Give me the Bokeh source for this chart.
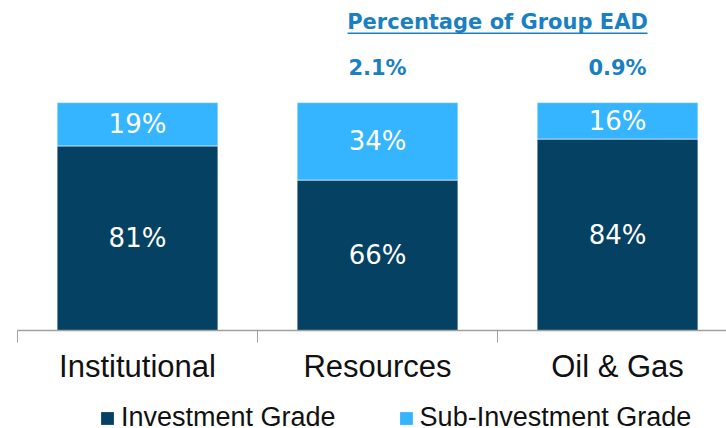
from bokeh.plotting import figure
from bokeh.layouts import column
from bokeh.models import ColumnDataSource, Range1d, FixedTicker, Legend, LegendItem, Label
from bokeh.core.properties import value
from bokeh.embed import file_html
from bokeh.resources import INLINE

categories = ["Institutional", "Resources", "Oil & Gas"]
investment_grade = [81, 66, 84]
sub_investment_grade = [19, 34, 16]
ead_share = ["", "2.1%", "0.9%"]
header_text = "Percentage of Group EAD"
series_names = ["Investment Grade", "Sub-Investment Grade"]

DARK = "#044163"
LIGHT = "#35B4FF"
BLUE_TXT = "#1A80C2"

xs = list(range(len(categories)))
src = ColumnDataSource(dict(
    x=xs,
    ig=investment_grade,
    sig=sub_investment_grade,
    ig_lbl=[f"{v}%" for v in investment_grade],
    sig_lbl=[f"{v}%" for v in sub_investment_grade],
    ig_mid=[v / 2 for v in investment_grade],
    sig_mid=[a + b / 2 for a, b in zip(investment_grade, sub_investment_grade)],
    ead=ead_share,
    ead_y=[115] * len(categories),
))

p = figure(width=726, height=390, output_backend="svg", toolbar_location=None,
           x_range=Range1d(-0.5, 2.454), y_range=Range1d(0, 141.3),
           y_axis_type=None, min_border_left=17, min_border_right=0,
           min_border_top=8, min_border_bottom=60)
p.outline_line_color = None
p.xgrid.visible = False
p.ygrid.visible = False

p.vbar_stack(["ig", "sig"], x="x", width=0.67, source=src,
             color=[DARK, LIGHT], line_color="white", line_width=0.6)

p.text(x="x", y="ig_mid", text="ig_lbl", source=src, text_color="white",
       text_font=value("DejaVu Sans"), text_font_size="26px",
       text_align="center", text_baseline="middle")
p.text(x="x", y="sig_mid", text="sig_lbl", source=src, text_color="white",
       text_font=value("DejaVu Sans"), text_font_size="26px",
       text_align="center", text_baseline="middle")
p.text(x="x", y="ead_y", text="ead", source=src, text_color=BLUE_TXT,
       text_font=value("DejaVu Sans"), text_font_style="bold", text_font_size="21px",
       text_align="center", text_baseline="middle")

# header with underline
p.add_layout(Label(x=1.5, y=135.2, text=header_text, text_color=BLUE_TXT,
                   text_font="DejaVu Sans", text_font_style="bold", text_font_size="21px",
                   text_align="center", text_baseline="middle"))
p.segment(x0=[0.875], y0=[130.4], x1=[2.125], y1=[130.4], line_color=BLUE_TXT, line_width=1.5)

ax = p.xaxis[0]
ax.ticker = FixedTicker(ticks=xs, minor_ticks=[-0.5, 0.5, 1.5, 2.5])
ax.major_label_overrides = {i: c for i, c in zip(xs, categories)}
ax.major_tick_line_color = None
ax.major_tick_out = 0
ax.major_tick_in = 0
ax.minor_tick_line_color = "#A0A0A0"
ax.minor_tick_out = 12
ax.minor_tick_in = 0
ax.axis_line_color = "#A0A0A0"
ax.axis_line_width = 1.5
ax.major_label_text_font = "Liberation Sans"
ax.major_label_text_font_size = "31px"
ax.major_label_text_color = "#111111"
ax.major_label_standoff = 6

# legend strip below the chart
lg = figure(width=726, height=38, output_backend="svg", toolbar_location=None,
            x_range=Range1d(0, 1), y_range=Range1d(0, 1),
            x_axis_type=None, y_axis_type=None,
            min_border_left=0, min_border_right=0, min_border_top=0, min_border_bottom=0)
lg.outline_line_color = None
lg.xgrid.visible = False
lg.ygrid.visible = False
nan = float("nan")
swatches = [lg.vbar(x=[nan], top=[nan], width=0.1, fill_color=c, line_color=None)
            for c in (DARK, LIGHT)]

legend = Legend(items=[LegendItem(label=n, renderers=[s]) for n, s in zip(series_names, swatches)],
                orientation="horizontal", location=(82, -5),
                label_text_font="Liberation Sans", label_text_font_size="27px",
                label_text_color="#111111", label_height=16,
                glyph_width=16, glyph_height=16, label_standoff=6, spacing=62,
                padding=0, margin=0, border_line_color=None,
                background_fill_alpha=0)
lg.add_layout(legend, "center")

layout = column(p, lg, spacing=0)
open("out.html", "w").write(file_html(layout, INLINE))
